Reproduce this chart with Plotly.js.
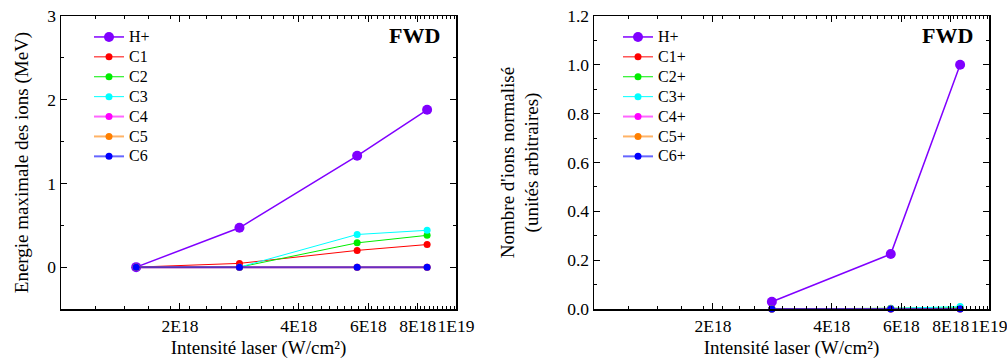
<!DOCTYPE html>
<html>
<head>
<meta charset="utf-8">
<script src="https://cdn.plot.ly/plotly-3.0.1.min.js"></script>
<style>html,body{margin:0;padding:0;background:#fff;}#chart{width:1007px;height:362px;}</style>
</head>
<body>
<div id="chart"></div>
<script>
// ---- data ----
const energyIntensity = [1.55e18, 2.83e18, 5.62e18, 8.45e18];
const energyH  = [0, 0.47, 1.33, 1.88];
const energyC1 = [0, 0.045, 0.20, 0.27];
const energyC2 = [0, 0.0, 0.29, 0.38];
const energyC3 = [0, 0.0, 0.39, 0.44];
const energyC4 = [0, 0, 0, 0];
const energyC5 = [0, 0, 0, 0];
const energyC6 = [0, 0, 0, 0];

const countIntensity = [2.82e18, 5.64e18, 8.45e18];
const countH  = [0.03, 0.225, 1.0];
const countC1 = [0, 0.001, 0.002];
const countC2 = [0, 0.003, 0.005];
const countC3 = [0, 0.002, 0.01];
const countC4 = [0, 0, 0];
const countC5 = [0, 0, 0];
const countC6 = [0, 0, 0];

const xTickVals = [2e18, 4e18, 6e18, 8e18, 1e19];
const xTickText = ['2E18', '4E18', '6E18', '8E18', '1E19'];
const leftNames  = ['H+', 'C1', 'C2', 'C3', 'C4', 'C5', 'C6'];
const rightNames = ['H+', 'C1+', 'C2+', 'C3+', 'C4+', 'C5+', 'C6+'];

// ---- styles ----
const FAM = 'Liberation Serif';
const styles = [
  {line: '#8000ff', marker: '#8000ff', w: 1.5, size: 10},
  {line: '#ff0000', marker: '#ff0000', w: 1, size: 7},
  {line: '#00ee00', marker: '#00ee00', w: 1, size: 7},
  {line: '#00ffff', marker: '#00ffff', w: 1, size: 7},
  {line: 'rgba(255,0,255,0.6)', marker: '#ff00ff', w: 2, size: 7},
  {line: 'rgba(255,128,0,0.6)', marker: '#ff8000', w: 2, size: 7},
  {line: 'rgba(0,0,255,0.6)', marker: '#0000ff', w: 2, size: 7}
];

function mkFont(size) { return {family: FAM, size: size, color: '#000000'}; }
function legendLabel(n) { return '<span style="font-size:16px">' + n + '</span>'; }

// minor ticks: linear step of 2E18/9 between 1E18 and 1E19
const minorX = [];
for (let i = 1; i < 41; i++) {
  const v = 1e18 + i * 2e18 / 9;
  if (v >= 1e19) break;
  const isMajor = xTickVals.some(t => Math.abs(t - v) / t < 1e-6);
  if (!isMajor) minorX.push(v);
}

const leftY = [energyH, energyC1, energyC2, energyC3, energyC4, energyC5, energyC6];
const rightY = [countH, countC1, countC2, countC3, countC4, countC5, countC6];

const traces = [];
leftY.forEach((ys, i) => {
  traces.push({
    x: energyIntensity, y: ys, name: legendLabel(leftNames[i]), type: 'scatter', mode: 'lines+markers',
    line: {color: styles[i].line, width: styles[i].w},
    marker: {color: styles[i].marker, size: styles[i].size},
    xaxis: 'x', yaxis: 'y', legend: 'legend', cliponaxis: false
  });
});
rightY.forEach((ys, i) => {
  traces.push({
    x: countIntensity, y: ys, name: legendLabel(rightNames[i]), type: 'scatter', mode: 'lines+markers',
    line: {color: styles[i].line, width: styles[i].w},
    marker: {color: styles[i].marker, size: styles[i].size},
    xaxis: 'x2', yaxis: 'y2', legend: 'legend2', cliponaxis: false
  });
});

function xAxis(domain, anchor) {
  return {
    type: 'log', domain: domain, anchor: anchor, range: [18, 19],
    tickmode: 'array', tickvals: xTickVals, ticktext: xTickText,
    tickangle: 0, ticklabeloverflow: 'allow',
    ticks: 'inside', ticklen: 6, tickwidth: 1, tickcolor: '#000',
    minor: {tickvals: minorX, ticks: 'inside', ticklen: 3, tickwidth: 1, tickcolor: '#000'},
    showline: true, linecolor: '#000', linewidth: 1.5, mirror: 'ticks',
    showgrid: false, zeroline: false, tickfont: mkFont(17.5), automargin: false,
    title: {text: 'Intensité laser (W/cm²)', font: mkFont(19), standoff: 6}
  };
}

const yDomain = [1 - 309 / 362, 1 - 16 / 362];

const layout = {
  width: 1007, height: 362,
  margin: {l: 0, r: 0, t: 0, b: 0},
  paper_bgcolor: '#fff', plot_bgcolor: '#fff',
  font: mkFont(17),
  showlegend: true,
  xaxis: xAxis([61 / 1007, 456 / 1007], 'y'),
  xaxis2: xAxis([594 / 1007, 989 / 1007], 'y2'),
  yaxis: {
    domain: yDomain, anchor: 'x', range: [-0.5, 3],
    tickmode: 'array', tickvals: [0, 1, 2, 3],
    ticks: 'inside', ticklen: 6, tickwidth: 1, tickcolor: '#000',
    minor: {tickvals: [-0.5, 0.5, 1.5, 2.5], ticks: 'inside', ticklen: 3, tickwidth: 1, tickcolor: '#000'},
    showline: true, linecolor: '#000', linewidth: 1.5, mirror: 'ticks',
    showgrid: false, zeroline: false, tickfont: mkFont(17.5), automargin: false,
    title: {text: 'Energie maximale des ions (MeV)', font: mkFont(19), standoff: 13}
  },
  yaxis2: {
    domain: yDomain, anchor: 'x2', range: [0, 1.2],
    tickmode: 'array', tickvals: [0, 0.2, 0.4, 0.6, 0.8, 1.0, 1.2], tickformat: '.1f',
    ticks: 'inside', ticklen: 6, tickwidth: 1, tickcolor: '#000',
    minor: {tickvals: [0.1, 0.3, 0.5, 0.7, 0.9, 1.1], ticks: 'inside', ticklen: 3, tickwidth: 1, tickcolor: '#000'},
    showline: true, linecolor: '#000', linewidth: 1.5, mirror: 'ticks',
    showgrid: false, zeroline: false, tickfont: mkFont(17.5), automargin: false,
    title: {text: "Nombre d'ions normalisé<br>(unités arbitraires)", font: mkFont(19), standoff: 23}
  },
  legend: {
    x: 89 / 1007, y: 1 - 22 / 362, xanchor: 'left', yanchor: 'top', xref: 'paper', yref: 'paper',
    bgcolor: 'rgba(0,0,0,0)', font: mkFont(13),
    tracegroupgap: 0, itemwidth: 30
  },
  legend2: {
    x: 618 / 1007, y: 1 - 22 / 362, xanchor: 'left', yanchor: 'top', xref: 'paper', yref: 'paper',
    bgcolor: 'rgba(0,0,0,0)', font: mkFont(13),
    tracegroupgap: 0, itemwidth: 30
  },
  annotations: [
    {text: '<b>FWD</b>', xref: 'paper', yref: 'paper', x: 442 / 1007, y: 1 - 35 / 362,
     xanchor: 'right', yanchor: 'middle', showarrow: false, font: mkFont(22)},
    {text: '<b>FWD</b>', xref: 'paper', yref: 'paper', x: 975 / 1007, y: 1 - 35 / 362,
     xanchor: 'right', yanchor: 'middle', showarrow: false, font: mkFont(22)}
  ]
};

Plotly.newPlot('chart', traces, layout, {displayModeBar: false, staticPlot: true});
</script>
</body>
</html>
